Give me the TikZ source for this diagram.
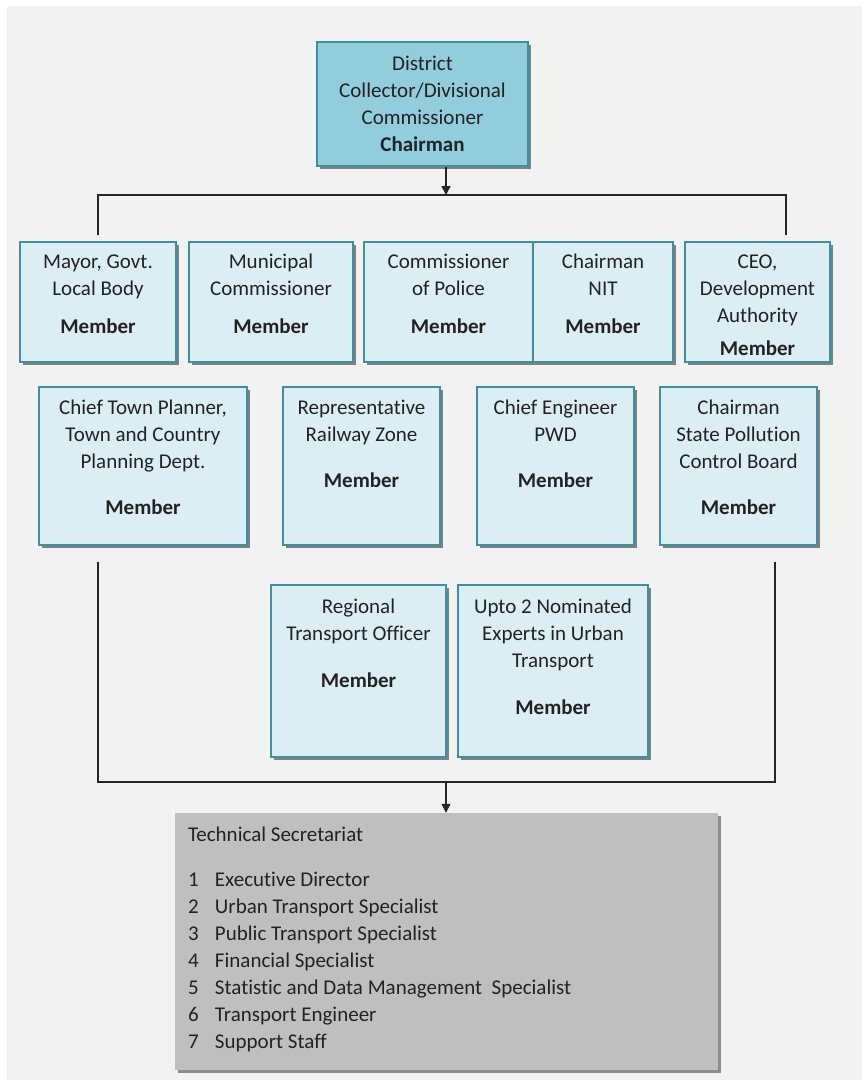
\documentclass[tikz,border=0pt]{standalone}
\usepackage{fontspec}
\setmainfont{Carlito}[Ligatures=CommonOff]
\usetikzlibrary{arrows.meta, shadows}

\definecolor{chairfill}{HTML}{92CDDC}
\definecolor{memberfill}{HTML}{DBEEF3}
\definecolor{boxline}{HTML}{3F8FA3}
\definecolor{secfill}{HTML}{BFBFBF}
\definecolor{pagebg}{HTML}{F2F2F2}
\definecolor{textcol}{HTML}{222222}

% width, height, top padding, lines
\newcommand{\boxtext}[4]{\parbox[c][#2pt][t]{#1pt}{\centering\vspace*{#3pt}\strut#4}}

\begin{document}
\begin{tikzpicture}[x=1pt, y=-1pt, font=\fontsize{21}{27}\selectfont, text=textcol,
    member/.style={draw=boxline, line width=1.3pt, fill=memberfill, inner sep=0pt,
        drop shadow={shadow xshift=3pt, shadow yshift=-3pt, fill=black!50, opacity=1}},
    chair/.style={member, fill=chairfill},
    secbox/.style={fill=secfill, inner sep=0pt,
        drop shadow={shadow xshift=3pt, shadow yshift=-3pt, fill=black!45, opacity=1}},
    link/.style={line width=1.4pt, black!85},
    arr/.style={link, -{Triangle[length=9pt, width=9pt]}}]
    % Page
    \fill[white] (0,0) rectangle (862,1080);
    \fill[pagebg] (7,6) rectangle (862,1080);
    \useasboundingbox (0,0) rectangle (862,1080);

    % Chairman
    \node[chair] (chairman) at (422.5,104) {\boxtext{211}{124}{10}{District\\Collector/Divisional\\Commissioner\\\textbf{Chairman}}};

    % First row of members
    \node[member] (mayor) at (98,302) {\boxtext{156}{120}{8}{Mayor, Govt.\\Local Body\\[11pt]\textbf{Member}}};
    \node[member] (municipal) at (271,302) {\boxtext{164}{120}{8}{Municipal\\Commissioner\\[11pt]\textbf{Member}}};
    \node[member] (police) at (448.5,302) {\boxtext{169}{120}{8}{Commissioner\\of Police\\[11pt]\textbf{Member}}};
    \node[member] (nit) at (603,302) {\boxtext{140}{120}{8}{Chairman\\NIT\\[11pt]\textbf{Member}}};
    \node[member] (ceo) at (757.5,302) {\boxtext{145}{120}{8}{CEO,\\Development\\Authority\\[6pt]\textbf{Member}}};

    % Second row
    \node[member] (planner) at (143,466) {\boxtext{208}{158}{9}{Chief Town Planner,\\Town and Country\\Planning Dept.\\[19pt]\textbf{Member}}};
    \node[member] (railway) at (361.5,466) {\boxtext{157}{158}{9}{Representative\\Railway Zone\\[19pt]\textbf{Member}}};
    \node[member] (pwd) at (555.5,466) {\boxtext{157}{158}{9}{Chief Engineer\\PWD\\[19pt]\textbf{Member}}};
    \node[member] (pollution) at (738.5,466) {\boxtext{157}{158}{9}{Chairman\\State Pollution\\Control Board\\[19pt]\textbf{Member}}};

    % Third row
    \node[member] (rto) at (358.5,671) {\boxtext{175}{172}{10}{Regional\\Transport Officer\\[20pt]\textbf{Member}}};
    \node[member] (experts) at (553,671) {\boxtext{190}{172}{10}{Upto 2 Nominated\\Experts in Urban\\Transport\\[20pt]\textbf{Member}}};

    % Technical secretariat
    \node[secbox] (secretariat) at (446.5,941.5) {\parbox[c][257pt][t]{543pt}{\raggedright\leftskip=13pt
        \vspace*{10pt}\strut Technical Secretariat\\[18pt]
        \makebox[27pt][l]{1}Executive Director\\
        \makebox[27pt][l]{2}Urban Transport Specialist\\
        \makebox[27pt][l]{3}Public Transport Specialist\\
        \makebox[27pt][l]{4}Financial Specialist\\
        \makebox[27pt][l]{5}Statistic and Data Management~ Specialist\\
        \makebox[27pt][l]{6}Transport Engineer\\
        \makebox[27pt][l]{7}Support Staff}};

    % Connectors
    \coordinate (topbar) at (446,195);
    \coordinate (topL) at (98,235);
    \coordinate (topR) at (786,235);
    \coordinate (botbar) at (446,782);
    \coordinate (botL) at (98,562);
    \coordinate (botR) at (775,562);

    \draw[arr] (topbar |- chairman.south) -- (topbar);
    \draw[link] (topL) |- (topbar) -| (topR);
    \draw[link] (botL) |- (botbar) -| (botR);
    \draw[arr] (botbar) -- (botbar |- secretariat.north);
\end{tikzpicture}
\end{document}
